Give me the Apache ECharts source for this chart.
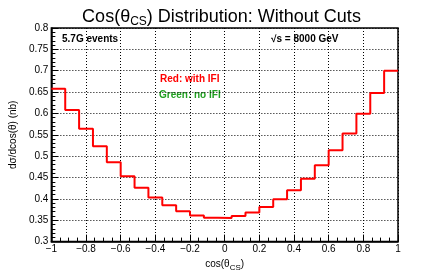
<!DOCTYPE html>
<html>
<head>
<meta charset="utf-8">
<script src="https://cdn.jsdelivr.net/npm/echarts@6/dist/echarts.min.js"></script>
<style>html,body{margin:0;padding:0;background:#fff;}#c{width:443px;height:277px;}</style>
</head>
<body>
<div id="c"></div>
<script>
var binEdges = [-1, -0.92, -0.84, -0.76, -0.68, -0.6, -0.52, -0.44, -0.36, -0.28, -0.2, -0.12, -0.04, 0.04, 0.12, 0.2, 0.28, 0.36, 0.44, 0.52, 0.6, 0.68, 0.76, 0.84, 0.92, 1];
var redValues = [0.658, 0.608, 0.564, 0.523, 0.486, 0.453, 0.426, 0.403, 0.385, 0.371, 0.361, 0.356, 0.355, 0.360, 0.368, 0.381, 0.399, 0.420, 0.447, 0.479, 0.514, 0.553, 0.599, 0.648, 0.700];
var xTickLabels = ['-1', '-0.8', '-0.6', '-0.4', '-0.2', '0', '0.2', '0.4', '0.6', '0.8', '1'];
var yTickLabels = ['0.3', '0.35', '0.4', '0.45', '0.5', '0.55', '0.6', '0.65', '0.7', '0.75', '0.8'];

var pts = [];
for (var i = 0; i < redValues.length; i++) pts.push([binEdges[i], redValues[i]]);
pts.push([binEdges[binEdges.length - 1], redValues[redValues.length - 1]]);

var FONT = '"Liberation Sans", Arial, sans-serif';
function fmt(list, v) {
  for (var i = 0; i < list.length; i++) {
    if (Math.abs(parseFloat(list[i]) - v) < 1e-6) return list[i].replace('-', '\u2212');
  }
  return '';
}
var chart = echarts.init(document.getElementById('c'), null, {renderer: 'canvas'});
chart.setOption({
  animation: false,
  backgroundColor: '#fff',
  title: {
    text: 'Cos(θ{s|CS}) Distribution: Without Cuts',
    left: 'center', top: 2,
    textStyle: {
      fontFamily: FONT, fontSize: 18, fontWeight: 'normal', color: '#000',
      rich: { s: { fontFamily: FONT, fontSize: 12, verticalAlign: 'bottom', padding: [9, 0, 0, 0], color: '#000' } }
    }
  },
  grid: { left: 43, right: 45, top: 28, bottom: 28, show: true, borderColor: '#000', borderWidth: 1.5, backgroundColor: 'transparent' },
  xAxis: {
    type: 'value', min: -1, max: 1, interval: 0.2,
    name: 'cos(θ{s|CS})', nameLocation: 'middle', nameGap: 15,
    nameTextStyle: { fontFamily: FONT, fontSize: 10, color: '#000',
      rich: { s: { fontFamily: FONT, fontSize: 8, padding: [7, 0, 0, 0], color: '#000' } } },
    axisLine: { show: true, onZero: false, lineStyle: { color: '#000', width: 1.5 } },
    axisTick: { show: true, inside: true, length: 7, lineStyle: { color: '#000' } },
    minorTick: { show: true, splitNumber: 4, length: 4, lineStyle: { color: '#000' } },
    axisLabel: { fontFamily: FONT, fontSize: 10, color: '#000', margin: 3, formatter: function (v) { return fmt(xTickLabels, v); } },
    splitLine: { show: true, lineStyle: { color: '#000', width: 1, type: [1, 2] } }
  },
  yAxis: {
    type: 'value', min: 0.3, max: 0.8, interval: 0.05,
    name: 'dσ/dcos(θ) (nb)', nameLocation: 'middle', nameGap: 30,
    nameTextStyle: { fontFamily: FONT, fontSize: 10, color: '#000' },
    axisLine: { show: true, onZero: false, lineStyle: { color: '#000', width: 1.5 } },
    axisTick: { show: true, inside: true, length: 7, lineStyle: { color: '#000' } },
    minorTick: { show: true, splitNumber: 5, length: 4, lineStyle: { color: '#000' } },
    axisLabel: { fontFamily: FONT, fontSize: 10, color: '#000', margin: 3, formatter: function (v) { return fmt(yTickLabels, v); } },
    splitLine: { show: true, lineStyle: { color: '#000', width: 1, type: [1, 2] } }
  },
  graphic: [
    { type: 'text', left: 62, top: 34, style: { text: '5.7G events', fontFamily: FONT, fontSize: 10, fontWeight: 'bold', fill: '#000' } },
    { type: 'text', left: 271, top: 34, style: { text: '√s = 8000 GeV', fontFamily: FONT, fontSize: 10, fontWeight: 'bold', fill: '#000' } },
    { type: 'text', left: 160, top: 74, style: { text: 'Red: with IFI', fontFamily: FONT, fontSize: 10, fontWeight: 'bold', fill: '#ff0000' } },
    { type: 'text', left: 159, top: 90, style: { text: 'Green: no IFI', fontFamily: FONT, fontSize: 10, fontWeight: 'bold', fill: '#22a022' } }
  ],
  series: [{
    type: 'line', step: 'end', data: pts, showSymbol: false, symbol: 'none',
    lineStyle: { color: '#ff0000', width: 2 }, z: 5
  }]
});
</script>
</body>
</html>
